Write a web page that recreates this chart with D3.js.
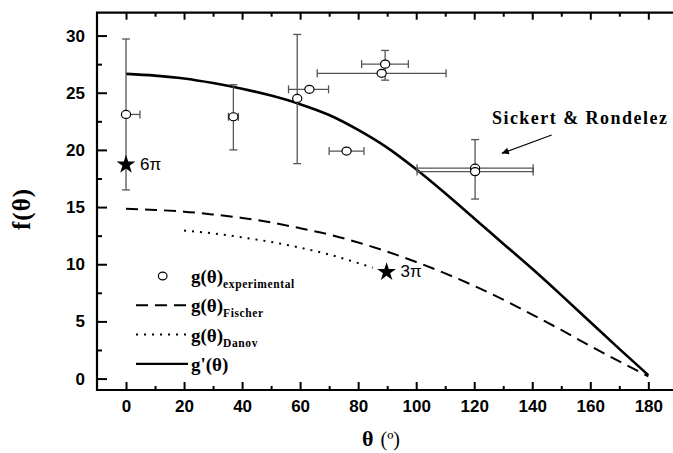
<!DOCTYPE html>
<html><head><meta charset="utf-8">
<script src="https://cdn.jsdelivr.net/npm/d3@7"></script>
<style>
html,body{margin:0;padding:0;background:#fff;}
svg{display:block;}
</style></head>
<body>
<svg id="chart" width="673" height="453"></svg>
<script>
// ---------- data ----------
const thetaGrid   = [0,10,20,30,40,50,60,70,80,90,100,110,120,130,140,150,160,170,180];
const gPrime      = [26.65,26.5,26.25,25.85,25.35,24.75,24.0,23.05,21.75,20.2,18.3,16.2,14.0,11.8,9.6,7.3,4.95,2.6,0.3];
const gFischer    = [14.85,14.75,14.6,14.35,14.05,13.65,13.15,12.6,11.9,11.1,10.2,9.2,8.1,6.9,5.6,4.25,2.85,1.5,0.2];
const danovTheta  = [20,30,40,50,60,70,80,85];
const gDanov      = [12.95,12.7,12.35,11.95,11.45,10.85,10.1,9.7];

const expTheta    = [0, 37, 59, 63.2, 76, 89.3, 88.1, 120.3, 120.3];
const expValue    = [23.1, 22.9, 24.5, 25.3, 19.9, 27.5, 26.7, 18.4, 18.1];
const expXMinus   = [0, 1.7, 0, 7.2, 6, 8.1, 22.2, 20, 20];
const expXPlus    = [4.8, 1.7, 0, 6.6, 6, 8.0, 22.2, 20, 20];
const expYMinus   = [6.6, 2.9, 5.7, 0, 0, 1.4, 0, 2.7, 0];
const expYPlus    = [6.6, 2.8, 5.6, 0, 0, 1.2, 0, 2.5, 0];

const starTheta   = [0, 89.8];
const starValue   = [18.8, 9.4];
const starLabels  = ["6π", "3π"];

const xTickValues = [0,20,40,60,80,100,120,140,160,180];
const xMinorTicks = [10,30,50,70,90,110,130,150,170];
const yTickValues = [0,5,10,15,20,25,30];
const yMinorTicks = [2.5,7.5,12.5,17.5,22.5,27.5];

const legendLabels = [
  {main:"g(θ)", sub:"experimental", type:"circle"},
  {main:"g(θ)", sub:"Fischer", type:"dash"},
  {main:"g(θ)", sub:"Danov", type:"dot"},
  {main:"g'(θ)", sub:"", type:"solid"}
];

// ---------- layout ----------
const svg = d3.select("#chart");
const L = 97, T = 12.7, B = 390;
const x = d3.scaleLinear().domain([-10, 190]).range([L, L + 200*2.9017]);
const y = d3.scaleLinear().domain([-1, 32]).range([B, T]);
const R = 673;

const sans = "'Liberation Sans', Arial, sans-serif";
const serif = "'Liberation Serif', 'Times New Roman', serif";

// ---------- axes ----------
const gx = svg.append("g").attr("transform", `translate(0,${B})`)
  .call(d3.axisBottom(x).tickValues(xTickValues).tickSize(-8).tickSizeOuter(0).tickPadding(10).tickFormat(d3.format("d")));
gx.select(".domain").remove();
gx.selectAll(".tick line").attr("stroke","#000").attr("stroke-width",2);
gx.selectAll(".tick text").attr("font-family",sans).attr("font-weight","bold").attr("font-size",17).attr("fill","#000");

const gxm = svg.append("g").attr("transform", `translate(0,${B})`)
  .call(d3.axisBottom(x).tickValues(xMinorTicks).tickSize(-4).tickSizeOuter(0).tickFormat(""));
gxm.select(".domain").remove();
gxm.selectAll(".tick line").attr("stroke","#000").attr("stroke-width",2);

const gt = svg.append("g").attr("transform", `translate(0,${T})`)
  .call(d3.axisTop(x).tickValues(xTickValues).tickSize(-7).tickSizeOuter(0).tickFormat(""));
gt.select(".domain").remove();
gt.selectAll(".tick line").attr("stroke","#000").attr("stroke-width",2);
const gtm = svg.append("g").attr("transform", `translate(0,${T})`)
  .call(d3.axisTop(x).tickValues(xMinorTicks.concat([190])).tickSize(-4).tickSizeOuter(0).tickFormat(""));
gtm.select(".domain").remove();
gtm.selectAll(".tick line").attr("stroke","#000").attr("stroke-width",2);

const gy = svg.append("g").attr("transform", `translate(${L},0)`)
  .call(d3.axisLeft(y).tickValues(yTickValues).tickSize(-10).tickSizeOuter(0).tickPadding(12).tickFormat(d3.format("d")));
gy.select(".domain").remove();
gy.selectAll(".tick line").attr("stroke","#000").attr("stroke-width",2);
gy.selectAll(".tick text").attr("font-family",sans).attr("font-weight","bold").attr("font-size",17).attr("fill","#000");
const gym = svg.append("g").attr("transform", `translate(${L},0)`)
  .call(d3.axisLeft(y).tickValues(yMinorTicks).tickSize(-5).tickSizeOuter(0).tickFormat(""));
gym.select(".domain").remove();
gym.selectAll(".tick line").attr("stroke","#000").attr("stroke-width",2);

// frame
svg.append("path")
  .attr("d", `M${R+2},${T}H${L}V${B}H${R+2}`)
  .attr("fill","none").attr("stroke","#000").attr("stroke-width",2.2);

// ---------- curves ----------
const line = d3.line().x(d=>x(d[0])).y(d=>y(d[1])).curve(d3.curveMonotoneX);

svg.append("path").datum(thetaGrid.map((t,i)=>[t,gFischer[i]]))
  .attr("d", line).attr("fill","none").attr("stroke","#000").attr("stroke-width",2)
  .attr("stroke-dasharray","12,7");

svg.append("path").datum(danovTheta.map((t,i)=>[t,gDanov[i]]))
  .attr("d", line).attr("fill","none").attr("stroke","#000").attr("stroke-width",2)
  .attr("stroke-dasharray","2,6");

svg.append("path").datum(thetaGrid.map((t,i)=>[t,gPrime[i]]))
  .attr("d", line).attr("fill","none").attr("stroke","#000").attr("stroke-width",2.6);

// ---------- error bars & points ----------
const eb = svg.append("g").attr("stroke","#555").attr("stroke-width",1.3).attr("fill","none");
const cap = 4;
expTheta.forEach((t,i)=>{
  const cx = x(t), cy = y(expValue[i]);
  if (expYPlus[i] > 0 || expYMinus[i] > 0) {
    const y1 = y(expValue[i] + expYPlus[i]), y2 = y(expValue[i] - expYMinus[i]);
    eb.append("line").attr("x1",cx).attr("x2",cx).attr("y1",y1).attr("y2",y2);
    if (expYPlus[i] > 0) eb.append("line").attr("x1",cx-cap).attr("x2",cx+cap).attr("y1",y1).attr("y2",y1);
    if (expYMinus[i] > 0) eb.append("line").attr("x1",cx-cap).attr("x2",cx+cap).attr("y1",y2).attr("y2",y2);
  }
  if (expXPlus[i] > 0 || expXMinus[i] > 0) {
    const x1 = x(t - expXMinus[i]), x2 = x(t + expXPlus[i]);
    eb.append("line").attr("x1",x1).attr("x2",x2).attr("y1",cy).attr("y2",cy);
    if (expXMinus[i] > 0) eb.append("line").attr("x1",x1).attr("x2",x1).attr("y1",cy-cap).attr("y2",cy+cap);
    if (expXPlus[i] > 0) eb.append("line").attr("x1",x2).attr("x2",x2).attr("y1",cy-cap).attr("y2",cy+cap);
  }
});
svg.append("g").selectAll("ellipse").data(expTheta).join("ellipse")
  .attr("cx",(d)=>x(d)).attr("cy",(d,i)=>y(expValue[i]))
  .attr("rx",4.6).attr("ry",4).attr("fill","#fff").attr("stroke","#000").attr("stroke-width",1.2);

// ---------- stars ----------
const star = d3.symbol().type(d3.symbolStar).size(110);
starTheta.forEach((t,i)=>{
  svg.append("path").attr("d", star()).attr("transform",`translate(${x(t)},${y(starValue[i])+1})`).attr("fill","#000");
  svg.append("text").attr("x", x(t)+14).attr("y", y(starValue[i])+6)
    .attr("font-family",sans).attr("font-size",17).attr("fill","#000").text(starLabels[i]);
});

// ---------- annotation ----------
svg.append("defs").append("marker").attr("id","arr").attr("viewBox","0 0 10 10")
  .attr("refX",10).attr("refY",5).attr("markerWidth",9).attr("markerHeight",7)
  .attr("markerUnits","userSpaceOnUse").attr("orient","auto")
  .append("path").attr("d","M0,0L10,5L0,10z").attr("fill","#000");
svg.append("line").attr("x1",x(146.7)).attr("y1",y(21.3)).attr("x2",x(129.5)).attr("y2",y(19.7))
  .attr("stroke","#000").attr("stroke-width",1.2).attr("marker-end","url(#arr)");
svg.append("text").attr("x",x(126.1)).attr("y",y(22.26))
  .attr("font-family",serif).attr("font-weight","bold").attr("font-size",18)
  .attr("textLength",175).attr("lengthAdjust","spacing").attr("fill","#000").text("Sickert & Rondelez");

// ---------- legend ----------
const legY0 = 276, legStep = 29.3;
legendLabels.forEach((d,i)=>{
  const ly = legY0 + i*legStep;
  if (d.type === "circle") {
    svg.append("ellipse").attr("cx",162.7).attr("cy",ly).attr("rx",4.3).attr("ry",3.8)
      .attr("fill","#fff").attr("stroke","#000").attr("stroke-width",1.2);
  } else {
    const ln = svg.append("line").attr("x1",136).attr("x2",188).attr("y1",ly).attr("y2",ly)
      .attr("stroke","#000").attr("stroke-width", d.type==="solid"?2.4:2);
    if (d.type==="dash") ln.attr("stroke-dasharray","12,7");
    if (d.type==="dot") ln.attr("stroke-dasharray","2,6");
  }
  const t = svg.append("text").attr("x",191).attr("y",ly+7)
    .attr("font-family",serif).attr("font-weight","bold").attr("font-size",19).attr("fill","#000");
  t.append("tspan").text(d.main);
  if (d.sub) t.append("tspan").attr("font-size",11.5).attr("dy",5).attr("letter-spacing",0.6).text(d.sub);
});

// ---------- axis titles ----------
svg.append("text").attr("transform","translate(30,209) rotate(-90)").attr("text-anchor","middle")
  .attr("font-family",serif).attr("font-weight","bold").attr("font-size",25).attr("letter-spacing",1).attr("fill","#000")
  .text("f(θ)");
const xt = svg.append("text").attr("x",362).attr("y",446).attr("font-family",serif).attr("fill","#000");
xt.append("tspan").attr("font-weight","bold").attr("font-size",22).text("θ");
xt.append("tspan").attr("font-size",20).attr("dx",7).text("(º)");
</script>
</body></html>
